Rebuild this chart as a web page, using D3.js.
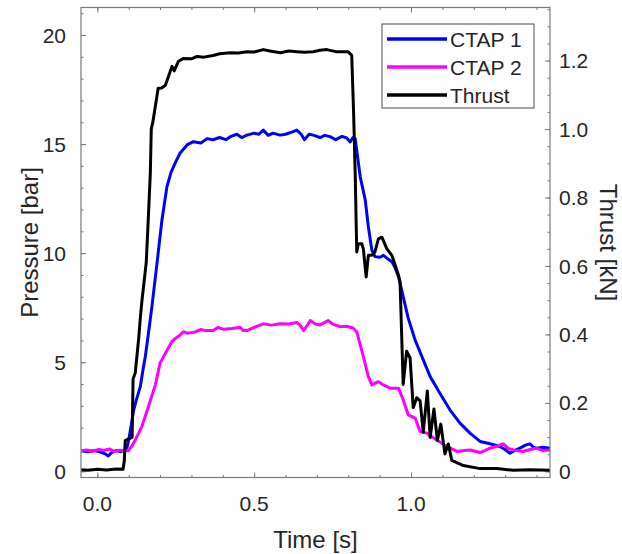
<!DOCTYPE html>
<html>
<head>
<meta charset="utf-8">
<script src="https://cdn.jsdelivr.net/npm/d3@7"></script>
<style>
  body { margin: 0; background: #fff; }
  text { font-family: "Liberation Sans", Arial, sans-serif; fill: #262626; }
</style>
</head>
<body>
<div id="chart"></div>
<script>
// [time s, pressure bar]
let ctap1 = [
    [-0.054, 0.95], [-0.03, 0.9], [-0.01, 0.95], [0.01, 0.88], [0.025, 0.8], [0.035, 0.7], [0.045, 0.85],
    [0.06, 0.95], [0.075, 0.9], [0.085, 0.95], [0.095, 1.1], [0.1, 1.44], [0.108, 2.1], [0.116, 2.82],
    [0.125, 3.3], [0.137, 3.88], [0.145, 4.6], [0.153, 5.26], [0.163, 6.33], [0.174, 7.55], [0.19, 9.5],
    [0.206, 11.52], [0.222, 13.05], [0.235, 13.7], [0.248, 14.13], [0.264, 14.59], [0.286, 14.96],
    [0.306, 15.11], [0.33, 15.05], [0.35, 15.25], [0.369, 15.2], [0.39, 15.3], [0.41, 15.2], [0.424, 15.34],
    [0.445, 15.45], [0.46, 15.3], [0.477, 15.41], [0.5, 15.5], [0.515, 15.45], [0.529, 15.64], [0.545, 15.4],
    [0.56, 15.5], [0.583, 15.41], [0.6, 15.45], [0.62, 15.55], [0.636, 15.64], [0.65, 15.45], [0.66, 15.2],
    [0.675, 15.45], [0.688, 15.41], [0.71, 15.3], [0.725, 15.4], [0.742, 15.34], [0.76, 15.2], [0.78, 15.35],
    [0.795, 15.28], [0.806, 15.1], [0.815, 15.3], [0.822, 15.25], [0.838, 13.5], [0.854, 12.44],
    [0.864, 11.21], [0.875, 10.15], [0.885, 9.84], [0.901, 9.81], [0.912, 9.9], [0.923, 9.77], [0.939, 9.61],
    [0.95, 9.3], [0.96, 8.92], [0.975, 8.01], [0.991, 7.02], [1.013, 6.02], [1.039, 5.11], [1.061, 4.34],
    [1.092, 3.58], [1.124, 2.82], [1.156, 2.21], [1.188, 1.75], [1.22, 1.37], [1.252, 1.26], [1.283, 1.14],
    [1.3, 1.0], [1.315, 0.83], [1.33, 0.95], [1.347, 1.06], [1.365, 1.2], [1.379, 1.26], [1.39, 1.1],
    [1.4, 1.06], [1.42, 1.1], [1.443, 1.06]
];
let ctap2 = [
    [-0.054, 0.94], [-0.035, 0.98], [-0.015, 0.92], [0.005, 1.0], [0.02, 0.95], [0.04, 1.02], [0.055, 0.9],
    [0.07, 0.97], [0.085, 0.95], [0.099, 0.94], [0.11, 1.15], [0.121, 1.44], [0.142, 2.05], [0.163, 2.97],
    [0.185, 3.96], [0.2, 4.96], [0.217, 5.41], [0.238, 5.95], [0.25, 6.1], [0.264, 6.25], [0.275, 6.4],
    [0.286, 6.33], [0.31, 6.38], [0.33, 6.5], [0.344, 6.45], [0.37, 6.45], [0.385, 6.6], [0.402, 6.51],
    [0.43, 6.55], [0.455, 6.6], [0.465, 6.45], [0.477, 6.45], [0.5, 6.6], [0.53, 6.76], [0.555, 6.7],
    [0.583, 6.76], [0.61, 6.75], [0.636, 6.82], [0.647, 6.7], [0.657, 6.45], [0.67, 6.7], [0.679, 6.91],
    [0.695, 6.75], [0.71, 6.71], [0.736, 6.91], [0.75, 6.75], [0.774, 6.63], [0.795, 6.65], [0.816, 6.56],
    [0.827, 6.4], [0.848, 5.26], [0.864, 4.34], [0.875, 3.96], [0.896, 4.11], [0.912, 3.96], [0.933, 3.81],
    [0.96, 3.81], [0.975, 3.28], [0.991, 2.59], [1.013, 2.44], [1.029, 1.82], [1.05, 1.75], [1.082, 1.44],
    [1.114, 1.14], [1.146, 0.91], [1.17, 0.95], [1.188, 0.98], [1.22, 0.86], [1.235, 0.95], [1.252, 1.06],
    [1.275, 1.15], [1.294, 1.26], [1.31, 1.05], [1.326, 0.98], [1.357, 0.91], [1.38, 1.0], [1.4, 1.06],
    [1.42, 0.95], [1.443, 0.98]
];
// [time s, thrust kN]
let thrust = [
    [-0.054, 0.005], [-0.03, 0.003], [0.0, 0.006], [0.03, 0.004], [0.06, 0.007], [0.082, 0.006],
    [0.086, 0.03], [0.089, 0.09], [0.105, 0.097], [0.111, 0.099], [0.114, 0.27], [0.121, 0.288],
    [0.132, 0.389], [0.137, 0.447], [0.142, 0.496], [0.156, 0.61], [0.162, 0.728], [0.169, 0.872],
    [0.172, 1.0], [0.177, 1.02], [0.194, 1.119], [0.205, 1.12], [0.217, 1.128], [0.238, 1.183],
    [0.245, 1.17], [0.258, 1.197], [0.274, 1.206], [0.3, 1.205], [0.318, 1.212], [0.34, 1.21],
    [0.369, 1.215], [0.39, 1.22], [0.424, 1.223], [0.45, 1.222], [0.477, 1.226], [0.5, 1.225],
    [0.529, 1.232], [0.55, 1.228], [0.583, 1.223], [0.61, 1.228], [0.636, 1.226], [0.66, 1.224],
    [0.688, 1.226], [0.71, 1.23], [0.732, 1.232], [0.76, 1.226], [0.799, 1.226], [0.811, 1.215],
    [0.817, 1.046], [0.822, 0.872], [0.827, 0.641], [0.832, 0.665], [0.843, 0.665], [0.848, 0.65],
    [0.857, 0.568], [0.864, 0.631], [0.875, 0.631], [0.885, 0.641], [0.896, 0.679], [0.907, 0.684],
    [0.923, 0.65], [0.939, 0.631], [0.96, 0.573], [0.965, 0.554], [0.975, 0.254], [0.986, 0.351],
    [0.997, 0.331], [1.007, 0.186], [1.018, 0.215], [1.029, 0.206], [1.039, 0.114], [1.052, 0.235],
    [1.061, 0.099], [1.073, 0.182], [1.084, 0.09], [1.095, 0.138], [1.108, 0.051], [1.119, 0.08],
    [1.13, 0.032], [1.167, 0.017], [1.22, 0.008], [1.273, 0.008], [1.326, 0.003], [1.379, 0.005],
    [1.443, 0.003]
];

let xTicks = [0.0, 0.5, 1.0];
let pressureTicks = [0, 5, 10, 15, 20];
let thrustTicks = [0, 0.2, 0.4, 0.6, 0.8, 1.0, 1.2];
let seriesNames = ['CTAP 1', 'CTAP 2', 'Thrust'];
let seriesColors = ['#0000ff', '#ff00ff', '#000000'];

let width = 622, height = 554;
let margin = { "top": 7.5, "bottom": 76.5, "left": 81, "right": 72 };
let axisColor = '#7a7a7a';

let svg = d3.select('#chart').append('svg').attr('width', width).attr('height', height);

let xScale = d3.scaleLinear()
    .domain([-0.052, 1.443])
    .range([margin.left, width - margin.right]);
let yScale = d3.scaleLinear()
    .domain([-0.284, 21.26])
    .range([height - margin.bottom, margin.top]);
let y2Scale = d3.scaleLinear()
    .domain([-0.018, 1.355])
    .range([height - margin.bottom, margin.top]);

svg.append('clipPath').attr('id', 'plotclip')
    .append('rect')
    .attr('x', margin.left).attr('y', margin.top)
    .attr('width', width - margin.left - margin.right)
    .attr('height', height - margin.top - margin.bottom);

// ticks, all pointing inward
function tickAxis(axis, pos, cls) {
    let g = svg.append('g').attr('class', cls)
        .attr('transform', 'translate(' + pos.join(',') + ')')
        .call(axis);
    g.select('.domain').remove();
    g.selectAll('line').attr('stroke', axisColor);
    return g;
}
let xMinor = d3.range(0, 1.45, 0.1);
let pMinor = d3.range(0, 22, 1);
let tMinor = d3.range(0, 1.36, 0.05);

tickAxis(d3.axisTop(xScale).tickValues(xMinor).tickSize(2.5).tickFormat(''), [0, height - margin.bottom], 'xminor');
tickAxis(d3.axisTop(xScale).tickValues(xTicks).tickSize(5).tickFormat(''), [0, height - margin.bottom], 'xmajor');
tickAxis(d3.axisBottom(xScale).tickValues(xMinor).tickSize(2.5).tickFormat(''), [0, margin.top], 'xtopminor');
tickAxis(d3.axisBottom(xScale).tickValues(xTicks).tickSize(5).tickFormat(''), [0, margin.top], 'xtopmajor');
tickAxis(d3.axisRight(yScale).tickValues(pMinor).tickSize(2.5).tickFormat(''), [margin.left, 0], 'yminor');
tickAxis(d3.axisRight(yScale).tickValues(pressureTicks).tickSize(5).tickFormat(''), [margin.left, 0], 'ymajor');
tickAxis(d3.axisLeft(y2Scale).tickValues(tMinor).tickSize(2.5).tickFormat(''), [width - margin.right, 0], 'y2minor');
tickAxis(d3.axisLeft(y2Scale).tickValues(thrustTicks).tickSize(5).tickFormat(''), [width - margin.right, 0], 'y2major');

// tick labels
svg.append('g').selectAll('text').data(xTicks).enter().append('text')
    .attr('x', d => xScale(d))
    .attr('y', height - margin.bottom + 33)
    .attr('text-anchor', 'middle')
    .style('font-size', '21px')
    .text(d => d.toFixed(1));
svg.append('g').selectAll('text').data(pressureTicks).enter().append('text')
    .attr('x', margin.left - 15)
    .attr('y', d => yScale(d))
    .attr('dy', '0.36em')
    .attr('text-anchor', 'end')
    .style('font-size', '21px')
    .text(d => d);
svg.append('g').selectAll('text').data(thrustTicks).enter().append('text')
    .attr('x', width - margin.right + 9)
    .attr('y', d => y2Scale(d))
    .attr('dy', '0.36em')
    .attr('text-anchor', 'start')
    .style('font-size', '21px')
    .text(d => d === 0 ? '0' : d.toFixed(1));

// axis titles
svg.append('text')
    .attr('x', (margin.left + width - margin.right) / 2)
    .attr('y', 548)
    .attr('text-anchor', 'middle')
    .style('font-size', '24px')
    .text('Time [s]');
svg.append('text')
    .attr('transform', 'translate(38,' + ((margin.top + height - margin.bottom) / 2) + ') rotate(-90)')
    .attr('text-anchor', 'middle')
    .style('font-size', '24px')
    .text('Pressure [bar]');
svg.append('text')
    .attr('transform', 'translate(600,' + ((margin.top + height - margin.bottom) / 2) + ') rotate(90)')
    .attr('text-anchor', 'middle')
    .style('font-size', '24px')
    .text('Thrust [kN]');

// lines
let pLine = d3.line().x(d => xScale(d[0])).y(d => yScale(d[1]));
let tLine = d3.line().x(d => xScale(d[0])).y(d => y2Scale(d[1]));
let plots = svg.append('g').attr('clip-path', 'url(#plotclip)');
plots.append('path').attr('d', pLine(ctap1))
    .attr('fill', 'none').attr('stroke', seriesColors[0]).attr('stroke-width', 3).attr('stroke-linejoin', 'round');
plots.append('path').attr('d', pLine(ctap2))
    .attr('fill', 'none').attr('stroke', seriesColors[1]).attr('stroke-width', 3).attr('stroke-linejoin', 'round');
plots.append('path').attr('d', tLine(thrust))
    .attr('fill', 'none').attr('stroke', seriesColors[2]).attr('stroke-width', 3).attr('stroke-linejoin', 'round');

// box
svg.append('rect')
    .attr('x', margin.left).attr('y', margin.top)
    .attr('width', width - margin.left - margin.right)
    .attr('height', height - margin.top - margin.bottom)
    .attr('fill', 'none')
    .attr('stroke', axisColor)
    .attr('stroke-width', 1.2);

// legend
let legend = svg.append('g').attr('transform', 'translate(382,24)');
legend.append('rect')
    .attr('x', 0).attr('y', 0).attr('width', 152).attr('height', 84)
    .attr('fill', '#fff').attr('stroke', '#4d4d4d').attr('stroke-width', 1);
let rows = legend.selectAll('.row').data(seriesNames).enter().append('g')
    .attr('transform', (d, i) => 'translate(0,' + (15 + i * 28) + ')');
rows.append('line')
    .attr('x1', 5).attr('x2', 65).attr('y1', 0).attr('y2', 0)
    .attr('stroke', (d, i) => seriesColors[i]).attr('stroke-width', 3.5);
rows.append('text')
    .attr('x', 68).attr('y', 0).attr('dy', '0.36em')
    .style('font-size', '21px')
    .text(d => d);
</script>
</body>
</html>
